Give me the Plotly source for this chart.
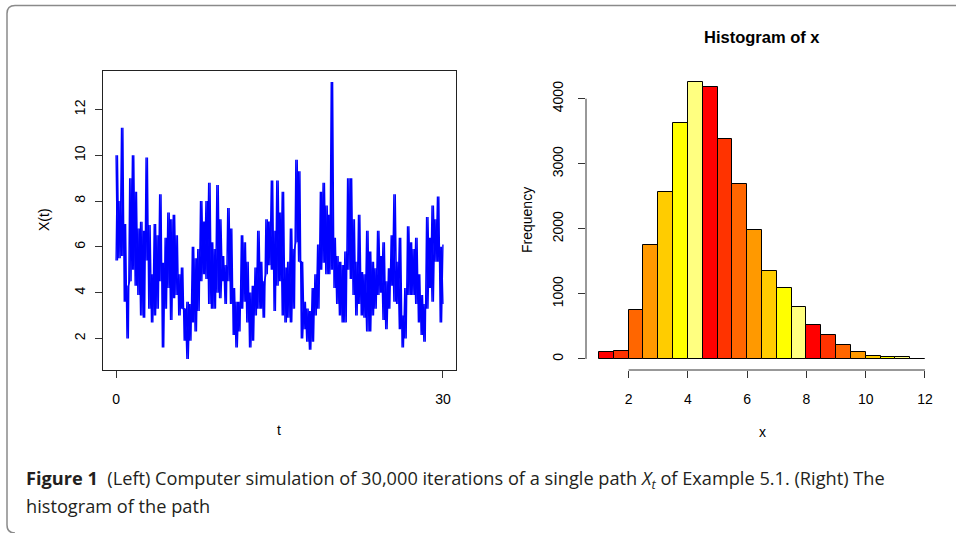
import plotly.graph_objects as go

# ---------------- data ----------------
# left panel: simulated path, read from the picture as upper/lower band edges every 0.25 time units
t_step = 0.25
path_hi = [
    10.0, 8.0, 11.2, 7.0, 4.3, 9.0, 10.0, 8.4,
    6.8, 7.1, 6.7, 9.9, 6.95, 4.8, 7.0, 6.5,
    8.3, 5.3, 6.4, 7.5, 7.2, 7.4, 6.5, 4.8,
    5.1, 3.3, 3.6, 3.5, 6.0, 5.5, 5.9, 8.0,
    7.1, 8.0, 8.8, 6.2, 5.9, 8.7, 7.2, 5.6,
    5.2, 7.7, 6.8, 4.2, 3.6, 3.6, 6.5, 6.2,
    5.35, 4.0, 4.3, 5.1, 6.7, 5.35, 4.5, 7.2,
    7.1, 8.9, 6.7, 8.9, 7.5, 8.4, 5.1, 5.35,
    6.8, 5.9, 9.8, 9.3, 5.35, 3.6, 3.3, 3.2,
    4.2, 4.8, 6.1, 8.4, 8.8, 7.8, 7.4, 13.2,
    6.4, 5.6, 5.35, 5.2, 5.8, 9.0, 9.0, 7.2,
    5.35, 7.4, 4.9, 4.8, 6.7, 5.8, 5.35, 5.06,
    6.7, 5.6, 6.2, 4.5, 5.06, 6.5, 8.3, 5.35,
    6.4, 3.0, 4.2, 6.9, 6.2, 5.9, 6.4, 4.8,
    3.9, 3.5, 7.3, 6.4, 7.8, 7.2, 8.2, 6.0,
    6.1,
]
path_lo = [
    5.4, 5.5, 5.6, 3.6, 2.0, 4.5, 5.0, 4.3,
    3.9, 3.0, 2.9, 5.4, 3.3, 2.7, 3.0, 3.3,
    4.5, 1.6, 3.3, 4.2, 2.8, 3.75, 3.9, 3.0,
    3.3, 1.9, 1.1, 1.9, 2.7, 2.3, 3.2, 4.5,
    4.8, 4.6, 3.5, 3.3, 3.3, 4.0, 3.75, 4.5,
    3.5, 4.5, 3.5, 2.15, 1.6, 2.3, 3.3, 3.6,
    2.7, 1.6, 1.9, 3.0, 3.3, 3.3, 2.9, 4.8,
    5.2, 5.0, 3.2, 4.3, 4.5, 3.0, 2.7, 2.9,
    2.7, 3.3, 6.2, 5.35, 2.0, 2.4, 1.85, 1.5,
    1.85, 3.0, 3.3, 5.0, 5.3, 4.8, 4.8, 5.0,
    4.2, 3.5, 3.0, 2.7, 2.7, 5.0, 4.6, 3.9,
    3.0, 3.5, 3.0, 2.9, 2.3, 2.3, 3.0, 3.3,
    3.9, 4.0, 2.8, 2.4, 3.3, 4.3, 3.6, 3.5,
    2.4, 1.6, 2.0, 3.9, 3.9, 3.9, 3.5, 2.7,
    2.15, 1.85, 3.3, 4.2, 3.6, 5.35, 5.35, 2.7,
    3.5,
]
x_ticks_left = [0, 30]
x_ticklabels_left = ["0", "30"]
y_ticks_left = [2, 4, 6, 8, 10, 12]

# right panel: histogram
bin_starts = [1.0, 1.5, 2.0, 2.5, 3.0, 3.5, 4.0, 4.5, 5.0, 5.5, 6.0,
              6.5, 7.0, 7.5, 8.0, 8.5, 9.0, 9.5, 10.0, 10.5, 11.0, 11.5]
bin_width = 0.5
counts = [108, 118, 759, 1749, 2569, 3621, 4256, 4179, 3374, 2687, 1979,
          1354, 1087, 805, 523, 369, 210, 108, 51, 36, 26, 5]
heat_palette = ["#FF0000", "#FF3300", "#FF6600", "#FF9900", "#FFCC00", "#FFFF00", "#FFFF80"]
x_ticks_right = [2, 4, 6, 8, 10, 12]
y_ticks_right = [0, 1000, 2000, 3000, 4000]

# ---------------- build ----------------
W, H = 956, 533
def px(x):
    return x / W
def py(y):
    return 1 - y / H

# zig-zag between band edges (two opposite phases so the dense path reads as a band)
path_t, path_v, path_t2, path_v2 = [], [], [], []
for i, (h, l) in enumerate(zip(path_hi, path_lo)):
    path_t += [i * t_step, i * t_step + t_step / 2]
    path_v += [h, l]
    path_t2 += [i * t_step, i * t_step + t_step / 2]
    path_v2 += [l, h]
path_t, path_v = path_t[:-1], path_v[:-1]
path_t2, path_v2 = path_t2[:-1], path_v2[:-1]

bar_centers = [s + bin_width / 2 for s in bin_starts]
bar_colors = [heat_palette[i % len(heat_palette)] for i in range(len(counts))]

fig = go.Figure()
for tt, vv in ((path_t, path_v), (path_t2, path_v2)):
    fig.add_trace(go.Scatter(x=tt, y=vv, mode="lines",
                             line=dict(color="#0000FF", width=1.4),
                             xaxis="x", yaxis="y", showlegend=False, hoverinfo="skip"))
fig.add_trace(go.Bar(x=bar_centers, y=counts, width=bin_width,
                     marker=dict(color=bar_colors, line=dict(color="black", width=1)),
                     xaxis="x2", yaxis="y2", showlegend=False))

FONT = "Liberation Sans, Arial, sans-serif"
axis_common = dict(showgrid=False, zeroline=False, ticks="outside", ticklen=7,
                   tickwidth=1, tickcolor="#333", tickfont=dict(family=FONT, size=14, color="black"))

y_dom = [py(370), py(71)]
fig.update_layout(
    width=W, height=H, margin=dict(l=0, r=0, t=0, b=0),
    paper_bgcolor="white", plot_bgcolor="white",
    bargap=0,
    xaxis=dict(domain=[px(103), px(456)], range=[-1.2, 31.2], tickvals=x_ticks_left,
               ticktext=x_ticklabels_left, showline=True, mirror=True, linecolor="#222",
               linewidth=1, anchor="y", ticklabelstandoff=9, **axis_common),
    yaxis=dict(domain=y_dom, range=[0.62, 13.68], tickvals=y_ticks_left, tickangle=-90,
               showline=True, mirror=True, linecolor="#222", linewidth=1, anchor="x",
               ticklabelstandoff=4, **axis_common),
    xaxis2=dict(domain=[px(586), px(938)], range=[0.56, 12.44], tickvals=x_ticks_right,
                showline=False, anchor="y2", ticklabelstandoff=9, **axis_common),
    yaxis2=dict(domain=y_dom, range=[-170.2, 4426], tickvals=y_ticks_right, tickangle=-90,
                showline=False, anchor="x2", ticklabelstandoff=9, **axis_common),
)

# axis lines of the histogram (R style: span only the tick range)
fig.add_shape(type="line", xref="x2", yref="paper", x0=x_ticks_right[0], x1=x_ticks_right[-1],
              y0=y_dom[0], y1=y_dom[0], line=dict(color="#333", width=1))
fig.add_shape(type="line", xref="paper", yref="y2", x0=px(586), x1=px(586),
              y0=y_ticks_right[0], y1=y_ticks_right[-1], line=dict(color="#333", width=1))

# rounded figure frame
fig.add_shape(type="path", xref="paper", yref="paper",
              path=f"M 1.0,{py(5.5)} L {px(15)},{py(5.5)} Q {px(7)},{py(5.5)} {px(7)},{py(13.5)} "
                   f"L {px(7)},{py(525)} Q {px(7)},{py(533)} {px(15)},{py(533)}",
              line=dict(color="#8a8a8a", width=1.5))

ann = [
    dict(text="t", x=px(279), y=py(430)),
    dict(text="X(t)", x=px(44), y=py(220), textangle=-90),
    dict(text="Frequency", x=px(527), y=py(220), textangle=-90),
    dict(text="x", x=px(762), y=py(432)),
]
for a in ann:
    fig.add_annotation(xref="paper", yref="paper", showarrow=False, xanchor="center",
                       yanchor="middle", font=dict(family=FONT, size=14, color="black"), **a)
fig.add_annotation(text="<b>Histogram of x</b>", xref="paper", yref="paper", x=px(762), y=py(37),
                   showarrow=False, xanchor="center", yanchor="middle",
                   font=dict(family=FONT, size=16.5, color="black"))

CAP_FONT = "Open Sans, Noto Sans, sans-serif"
fig.add_annotation(
    text="<b>Figure 1</b>  (Left) Computer simulation of 30,000 iterations of a single path "
         "<i>X</i><sub><i>t</i></sub> of Example 5.1. (Right) The",
    xref="paper", yref="paper", x=px(24), y=py(479), xanchor="left", yanchor="middle",
    showarrow=False, font=dict(family=CAP_FONT, size=18.2, color="#231f20"))
fig.add_annotation(
    text="histogram of the path",
    xref="paper", yref="paper", x=px(24), y=py(506), xanchor="left", yanchor="middle",
    showarrow=False, font=dict(family=CAP_FONT, size=18.2, color="#231f20"))

fig.write_html("out.html", config={"displayModeBar": False},
               post_script="document.body.style.margin='0';document.body.style.overflow='hidden';")
